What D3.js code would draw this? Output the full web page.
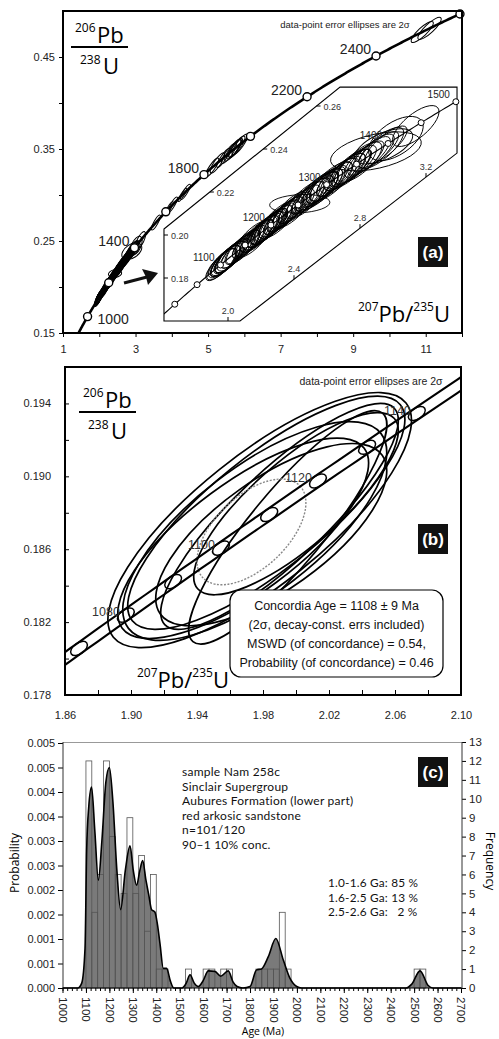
<!DOCTYPE html>
<html>
<head>
<meta charset="utf-8">
<title>U-Pb concordia and detrital age spectrum</title>
<script src="https://cdn.jsdelivr.net/npm/d3@7/dist/d3.min.js"></script>
<style>
body{margin:0;background:#fff;}
</style>
</head>
<body>
<script>
// ---------- data ----------
// zircon grains (Ma) with 2-sigma errors in % and error correlation
var grainAge = [1101,1104,1106,1108,1110,1112,1114,1116,1118,1120,1122,1124,
  1128,1134,1140,1146,
  1152,1156,1161,1165,1169,1173,
  1176,1178,1181,1183,1185,1187,1189,1191,1193,1195,1197,1199,
  1201,1204,1207,1210,1213,1216,1219,1223,
  1227,1231,1235,1239,1243,1247,
  1253,1258,1263,1267,1272,
  1276,1279,1282,1285,1288,1291,1293,1296,1299,
  1303,1308,1313,1318,1322,
  1327,1331,1335,1338,1341,1344,1348,
  1355,1362,1370,
  1377,1381,1385,1389,1393,1397,
  1412,1442,1541,
  1618,1640,1692,1708,
  1838,1862,1888,1912,1928,1934,1940,1946,1958,
  2515,2532];
var grainErrX = [4.7,4.3,5.1,4.0,4.5,4.9,4.1,5.3,4.4,4.6,4.2,5.0,
  4.1,4.7,4.4,4.9,
  3.9,4.5,4.3,5.1,4.0,4.6,
  4.3,3.8,4.7,4.1,4.5,4.0,4.9,4.2,4.4,4.8,4.1,4.6,
  4.4,3.9,4.7,4.2,5.0,4.1,4.5,4.3,
  4.6,4.1,4.4,4.9,4.0,4.5,
  7.5,4.3,4.7,4.1,4.5,
  4.2,4.6,4.0,4.8,4.4,4.1,4.7,4.3,4.5,
  4.4,4.9,4.1,4.6,4.3,
  4.2,4.5,4.0,4.7,4.4,4.1,4.6,
  4.8,4.3,4.5,
  4.4,9.5,4.2,4.7,6.0,4.3,
  5.5,4.5,3.5,
  3.0,3.2,2.8,3.1,
  3.6,3.8,3.4,3.7,3.9,3.6,3.4,3.8,3.7,
  2.8,2.9];
var grainErrY = [4.0,3.6,4.3,3.4,3.8,4.1,3.5,4.4,3.7,3.9,3.6,4.2,
  3.5,4.0,3.7,4.1,
  3.3,3.8,3.6,4.3,3.4,3.9,
  3.6,3.2,4.0,3.5,3.8,3.4,4.1,3.5,3.7,4.0,3.5,3.9,
  3.7,3.3,4.0,3.5,4.2,3.5,3.8,3.6,
  3.9,3.5,3.7,4.1,3.4,3.8,
  2.0,3.6,4.0,3.5,3.8,
  3.5,3.9,3.4,4.0,3.7,3.5,4.0,3.6,3.8,
  3.7,4.1,3.5,3.9,3.6,
  3.5,3.8,3.4,4.0,3.7,3.5,3.9,
  4.0,3.6,3.8,
  3.7,3.8,3.5,4.0,3.4,3.6,
  4.2,3.8,3.0,
  2.6,2.8,2.4,2.7,
  3.1,3.3,3.0,3.2,3.4,3.1,2.9,3.3,3.2,
  2.4,2.5];
var grainRho = [0.79,0.75,0.81,0.73,0.78,0.80,0.76,0.82,0.77,0.79,0.74,0.81,
  0.77,0.80,0.75,0.79,
  0.76,0.78,0.81,0.74,0.79,0.77,
  0.78,0.75,0.80,0.77,0.79,0.73,0.81,0.76,0.78,0.80,0.75,0.79,
  0.77,0.74,0.80,0.78,0.76,0.79,0.81,0.75,
  0.78,0.76,0.80,0.74,0.79,0.77,
  0.15,0.78,0.75,0.80,0.77,
  0.79,0.76,0.81,0.74,0.78,0.80,0.75,0.79,0.77,
  0.78,0.75,0.80,0.77,0.79,
  0.76,0.81,0.74,0.78,0.80,0.77,0.79,
  0.75,0.78,0.80,
  0.77,0.45,0.79,0.76,0.60,0.78,
  0.55,0.70,0.85,
  0.88,0.86,0.90,0.87,
  0.86,0.84,0.88,0.85,0.86,0.84,0.87,0.85,0.86,
  0.85,0.85];

// panel (a) concordia marks
var markAgesA = [1000,1200,1400,1600,1800,2000,2200,2400,2600];
var labelAgesA = [1000,1400,1800,2200,2400];
var yTicksA = [0.15,0.20,0.25,0.30,0.35,0.40,0.45];
var yLabelsA = [0.15,0.25,0.35,0.45];
var xTicksA = [1,2,3,4,5,6,7,8,9,10,11,12];
var xLabelsA = [1,3,5,7,9,11];
// inset
var markAgesIn = [1000,1050,1100,1150,1200,1250,1300,1350,1400,1450,1500];
var labelAgesIn = [1100,1200,1300,1400,1500];
var inXTicks = [2.0,2.4,2.8,3.2];
var inYTicks = [0.18,0.20,0.22,0.24,0.26];

// panel (b): grains used for the concordia age
var bX   = [1.978,1.982,1.975,1.990,1.985,2.000,1.968,1.995];
var bY   = [0.1876,0.1880,0.1870,0.1878,0.1868,0.1885,0.1866,0.1872];
var bSx  = [0.092,0.084,0.080,0.072,0.070,0.062,0.076,0.060];
var bSy  = [0.0070,0.0064,0.0060,0.0062,0.0050,0.0050,0.0055,0.0064];
var bRho = [0.78,0.80,0.72,0.85,0.70,0.80,0.75,0.88];
var bMean = [1.973,0.18695,0.033,0.0029,0.55]; // x, y, sx, sy, rho
var markAgesB = [1070,1080,1090,1100,1110,1120,1130,1140];
var labelAgesB = [1080,1100,1120,1140];
var yTicksB = [0.178,0.180,0.182,0.184,0.186,0.188,0.190,0.192,0.194,0.196];
var yLabelsB = [0.178,0.182,0.186,0.190,0.194];
var xTicksB = [1.86,1.88,1.90,1.92,1.94,1.96,1.98,2.00,2.02,2.04,2.06,2.08,2.10];
var xLabelsB = [1.86,1.90,1.94,1.98,2.02,2.06,2.10];
var concText = ["Concordia Age = 1108 \u00b1 9 Ma","(2\u03c3, decay-const. errs included)",
  "MSWD (of concordance) = 0.54,","Probability (of concordance) = 0.46"];

// panel (c): histogram (25 Ma bins) and probability density curve
var binStart = [1100,1125,1150,1175,1200,1225,1250,1275,1300,1325,1350,1375,1400,1425,
  1525,1600,1625,1675,1700,1825,1850,1875,1900,1925,1950,2500,2525];
var binCount = [12,4,6,12,8,6,5,9,5,7,3,6,1,1,1,1,1,1,1,1,1,1,1,4,1,1,1];
var pdpAge = [1000,1065,1082,1096,1103,1112,1124,1138,1153,1168,1185,1200,1215,1232,1248,
  1268,1288,1302,1316,1330,1342,1356,1368,1380,1394,1405,1416,1430,1444,1461,1475,
  1510,1528,1544,1562,1579,1600,1622,1650,1675,1707,1728,1745,1770,1800,1828,1849,
  1878,1910,1942,1970,1999,2020,2465,2490,2525,2560,2580,2700];
var pdpDens = [0,0,0.0001,0.0008,0.0028,0.0037,0.0041,0.0032,0.0022,0.0030,0.0042,0.0045,
  0.0038,0.0024,0.0016,0.0024,0.0029,0.0024,0.0021,0.0024,0.0026,0.0022,0.0019,0.0016,
  0.00155,0.0013,0.0009,0.0004,0.0004,0.00013,0,0,0.0001,0.00027,0.0001,0.00003,0.00015,
  0.00035,0.00034,0.00024,0.00035,0.00012,0.00003,0,0.00003,0.00037,0.00039,0.00064,
  0.00101,0.00057,0.0002,0.00003,0,0,0.00008,0.00035,0.00005,0,0];
var yLabelsC = ["0.000","0.001","0.001","0.002","0.002","0.003","0.003","0.004","0.004","0.005","0.005"];
var freqTicks = [0,1,2,3,4,5,6,7,8,9,10,11,12,13];
var sampleText = ["sample Nam 258c","Sinclair Supergroup","Aubures Formation (lower part)",
  "red arkosic sandstone","n=101/120","90\u20131 10% conc."];
var groupText = ["1.0-1.6 Ga: 85 %","1.6-2.5 Ga: 13 %","2.5-2.6 Ga:   2 %"];

// ---------- helpers ----------
var L238 = 1.55125e-4, L235 = 9.8485e-4; // per Ma
function r206(t){ return Math.exp(L238*t) - 1; }
function r207(t){ return Math.exp(L235*t) - 1; }
var SANS = "Liberation Sans, Arial, sans-serif";
var MYR = "Open Sans, Noto Sans, sans-serif";
var LAT = "Lato, Open Sans, sans-serif";

// error ellipse in pixel space from data errors
function ellipse(sel, xs, ys, x, y, sx, sy, rho){
  var kx = Math.abs(xs(1) - xs(0)), ky = Math.abs(ys(1) - ys(0));
  var a = Math.pow(sx*kx,2), d = Math.pow(sy*ky,2), b = -rho*sx*kx*sy*ky;
  var T = (a+d)/2, D = Math.sqrt((a-d)*(a-d)/4 + b*b);
  var ang = 0.5*Math.atan2(2*b, a-d)*180/Math.PI;
  var cx = xs(x), cy = ys(y);
  return sel.append("ellipse").attr("cx",cx).attr("cy",cy)
    .attr("rx",Math.sqrt(T+D)).attr("ry",Math.sqrt(Math.max(T-D,0.2)))
    .attr("transform","rotate("+ang+","+cx+","+cy+")")
    .attr("fill","none");
}
function fraction(g, x, y, top, bot){
  // stacked isotope ratio label
  g.append("text").attr("x",x+4).attr("y",y).attr("font-family",MYR).attr("font-size",12).text(top[0]);
  g.append("text").attr("x",x+26).attr("y",y+11).attr("font-family",MYR).attr("font-size",22).text(top[1]);
  g.append("line").attr("x1",x).attr("x2",x+57).attr("y1",y+15).attr("y2",y+15).attr("stroke","#000").attr("stroke-width",2.2);
  g.append("text").attr("x",x+9).attr("y",y+32).attr("font-family",MYR).attr("font-size",12).text(bot[0]);
  g.append("text").attr("x",x+32).attr("y",y+42).attr("font-family",MYR).attr("font-size",22).text(bot[1]);
}
function xRatio(g, x, y){
  var t = g.append("text").attr("x",x).attr("y",y).attr("text-anchor","end").attr("font-family",MYR);
  t.append("tspan").attr("font-size",12).attr("dy",-11).text("207");
  t.append("tspan").attr("font-size",22).attr("dy",11).text("Pb/");
  t.append("tspan").attr("font-size",12).attr("dy",-11).text("235");
  t.append("tspan").attr("font-size",22).attr("dy",11).text("U");
}
function tag(g, x, y, s){
  g.append("rect").attr("x",x).attr("y",y).attr("width",30).attr("height",30).attr("fill","#111");
  g.append("text").attr("x",x+15).attr("y",y+21).attr("text-anchor","middle").attr("fill","#fff")
    .attr("font-family",SANS).attr("font-weight","bold").attr("font-size",17).text(s);
}
function styleAxis(g, size){
  g.select(".domain").remove();
  g.selectAll("text").attr("font-family",SANS).attr("font-size",size).attr("fill","#222");
  g.selectAll("line").attr("stroke","#000");
}

var svg = d3.select("body").append("svg").attr("width",499).attr("height",1039);
var defs = svg.append("defs");

// ================= panel (a) =================
var xA = d3.scaleLinear().domain([1,12]).range([63,462]);
var yA = d3.scaleLinear().domain([0.15,0.50]).range([333,11]);
var gA = svg.append("g");
defs.append("clipPath").attr("id","clipA").append("rect")
  .attr("x",63).attr("y",11).attr("width",399).attr("height",322);
var pA = gA.append("g").attr("clip-path","url(#clipA)");

grainAge.forEach(function(t,i){
  var x = r207(t), y = r206(t);
  ellipse(pA, xA, yA, x, y, x*grainErrX[i]/100, y*grainErrY[i]/100, grainRho[i])
    .attr("stroke","#000").attr("stroke-width",1);
});
pA.append("path").datum(d3.range(880,2605,5))
  .attr("d", d3.line().x(function(t){return xA(r207(t));}).y(function(t){return yA(r206(t));}))
  .attr("fill","none").attr("stroke","#000").attr("stroke-width",2.6);
gA.selectAll("circle.mA").data(markAgesA).join("circle")
  .attr("cx",function(t){return xA(r207(t));}).attr("cy",function(t){return yA(r206(t));})
  .attr("r",4).attr("fill","#fff").attr("stroke","#000").attr("stroke-width",1.4);
gA.selectAll("text.lA").data(labelAgesA).join("text")
  .attr("x",function(t){return t===1000 ? xA(r207(t))+10 : xA(r207(t))-5;})
  .attr("y",function(t){return t===1000 ? yA(r206(t))+7 : yA(r206(t))-2;})
  .attr("text-anchor",function(t){return t===1000 ? "start" : "end";})
  .attr("font-family",SANS).attr("font-size",14).attr("fill","#222").text(function(t){return t;});

// inset
var xi = d3.scaleLinear().domain([2.0,3.2]).range([228,426]);
var yi = d3.scaleLinear().domain([0.18,0.26]).range([278,106]);
var hexX = [1.612,2.679,3.388,3.388,2.073,1.612], hexY = [0.2028,0.2688,0.2688,0.2381,0.16,0.16];
var hexPts = hexX.map(function(v,i){return [xi(v), yi(hexY[i])];});
defs.append("clipPath").attr("id","clipIn").append("polygon").attr("points",hexPts.join(" "));
gA.append("polygon").attr("points",hexPts.join(" ")).attr("fill","#fff").attr("stroke","none");
var pI = gA.append("g").attr("clip-path","url(#clipIn)");
grainAge.forEach(function(t,i){
  var x = r207(t), y = r206(t);
  ellipse(pI, xi, yi, x, y, x*grainErrX[i]/100, y*grainErrY[i]/100, grainRho[i])
    .attr("stroke","#000").attr("stroke-width",0.9);
});
pI.append("path").datum(d3.range(940,1560,5))
  .attr("d", d3.line().x(function(t){return xi(r207(t));}).y(function(t){return yi(r206(t));}))
  .attr("fill","none").attr("stroke","#000").attr("stroke-width",1.1);
gA.append("polygon").attr("points",hexPts.join(" ")).attr("fill","none").attr("stroke","#000").attr("stroke-width",1.1);
gA.selectAll("circle.mI").data(markAgesIn).join("circle")
  .attr("cx",function(t){return xi(r207(t));}).attr("cy",function(t){return yi(r206(t));})
  .attr("r",3).attr("fill","#fff").attr("stroke","#000").attr("stroke-width",1);
gA.selectAll("text.lI").data(labelAgesIn).join("text")
  .attr("x",function(t){return xi(r207(t))-6;}).attr("y",function(t){return yi(r206(t))-4;})
  .attr("text-anchor","end").attr("font-family",SANS).attr("font-size",10).attr("fill","#222")
  .text(function(t){return t;});
// inset ticks on the frame edges
function edgeX(p, q, y){ return p[0] + (q[0]-p[0])*(y-p[1])/(q[1]-p[1]); }
function edgeY(p, q, x){ return p[1] + (q[1]-p[1])*(x-p[0])/(q[0]-p[0]); }
inYTicks.forEach(function(v){
  var py = yi(v);
  var px = py >= hexPts[0][1] ? hexPts[0][0] : edgeX(hexPts[0], hexPts[1], py);
  gA.append("line").attr("x1",px).attr("x2",px+4).attr("y1",py).attr("y2",py).attr("stroke","#000");
  gA.append("text").attr("x",px+7).attr("y",py+3.5).attr("font-family",SANS).attr("font-size",9)
    .attr("fill","#333").text(d3.format(".2f")(v));
});
inXTicks.forEach(function(v){
  var px = xi(v);
  var py = px <= hexPts[4][0] ? hexPts[4][1] : edgeY(hexPts[3], hexPts[4], px);
  gA.append("line").attr("x1",px).attr("x2",px).attr("y1",py).attr("y2",py-4).attr("stroke","#000");
  gA.append("text").attr("x",px).attr("y",py-7).attr("text-anchor","middle").attr("font-family",SANS)
    .attr("font-size",9).attr("fill","#333").text(d3.format(".1f")(v));
});
// arrow toward inset
gA.append("line").attr("x1",124).attr("y1",283).attr("x2",147).attr("y2",277).attr("stroke","#111").attr("stroke-width",3);
gA.append("path").attr("d","M158,273 L142,269 L146,277 L148,285 Z").attr("fill","#111");

// axes (a)
var axYA = gA.append("g").attr("transform","translate(63,0)")
  .call(d3.axisLeft(yA).tickValues(yTicksA).tickSize(4).tickPadding(4)
  .tickFormat(function(d){return yLabelsA.indexOf(d) >= 0 ? d3.format(".2f")(d) : "";}));
styleAxis(axYA, 11);
var axXA = gA.append("g").attr("transform","translate(0,333)")
  .call(d3.axisBottom(xA).tickValues(xTicksA).tickSize(4).tickPadding(8)
  .tickFormat(function(d){return xLabelsA.indexOf(d) >= 0 ? d : "";}));
styleAxis(axXA, 11);
gA.append("rect").attr("x",63).attr("y",11).attr("width",399).attr("height",322)
  .attr("fill","none").attr("stroke","#000").attr("stroke-width",2);
gA.append("text").attr("x",345).attr("y",28).attr("text-anchor","middle").attr("font-family",SANS)
  .attr("font-size",9.5).attr("fill","#222").text("data-point error ellipses are 2\u03c3");
fraction(gA, 71, 32, ["206","Pb"], ["238","U"]);
xRatio(gA, 450, 322);
tag(gA, 418, 237, "(a)");

// ================= panel (b) =================
var xB = d3.scaleLinear().domain([1.86,2.10]).range([65,461]);
var yB = d3.scaleLinear().domain([0.178,0.196]).range([695,367]);
var gB = svg.append("g");
defs.append("clipPath").attr("id","clipB").append("rect")
  .attr("x",65).attr("y",367).attr("width",396).attr("height",328);
var pB = gB.append("g").attr("clip-path","url(#clipB)");
bX.forEach(function(x,i){
  ellipse(pB, xB, yB, x, bY[i], bSx[i], bSy[i], bRho[i]).attr("stroke","#000").attr("stroke-width",1.7);
});
ellipse(pB, xB, yB, bMean[0], bMean[1], bMean[2], bMean[3], bMean[4])
  .attr("stroke","#888").attr("stroke-width",1.4).attr("stroke-dasharray","2,1.5");
var bandE = 0.0029;
[-1,1].forEach(function(s){
  pB.append("path").datum(d3.range(1040,1170,2))
    .attr("d", d3.line().x(function(t){return xB(r207(t)*(1+s*bandE));}).y(function(t){return yB(r206(t));}))
    .attr("fill","none").attr("stroke","#000").attr("stroke-width",2.1);
});
markAgesB.forEach(function(t){
  var cx = xB(r207(t)), cy = yB(r206(t));
  var cx2 = xB(r207(t+1)), cy2 = yB(r206(t+1));
  var ang = Math.atan2(cy2-cy, cx2-cx)*180/Math.PI;
  pB.append("ellipse").attr("cx",cx).attr("cy",cy).attr("rx",9.5).attr("ry",5.5)
    .attr("transform","rotate("+ang+","+cx+","+cy+")").attr("fill","none")
    .attr("stroke","#000").attr("stroke-width",1.5);
});
gB.selectAll("text.lB").data(labelAgesB).join("text")
  .attr("x",function(t){return xB(r207(t))-6;}).attr("y",function(t){return yB(r206(t))+1;})
  .attr("text-anchor","end").attr("font-family",SANS).attr("font-size",12.5).attr("fill","#333")
  .text(function(t){return t;});
var axYB = gB.append("g").attr("transform","translate(65,0)")
  .call(d3.axisLeft(yB).tickValues(yTicksB).tickSize(4).tickPadding(10)
  .tickFormat(function(d){return yLabelsB.indexOf(d) >= 0 ? d3.format(".3f")(d) : "";}));
styleAxis(axYB, 11);
axYB.selectAll("line").attr("x2",4);
var axXB = gB.append("g").attr("transform","translate(0,695)")
  .call(d3.axisBottom(xB).tickValues(xTicksB).tickSize(4).tickPadding(12)
  .tickFormat(function(d){return xLabelsB.indexOf(d) >= 0 ? d3.format(".2f")(d) : "";}));
styleAxis(axXB, 11);
axXB.selectAll("line").attr("y2",-5);
gB.append("rect").attr("x",65).attr("y",367).attr("width",396).attr("height",328)
  .attr("fill","none").attr("stroke","#000").attr("stroke-width",2);
gB.append("text").attr("x",371).attr("y",385).attr("text-anchor","middle").attr("font-family",SANS)
  .attr("font-size",10.5).attr("fill","#222").text("data-point error ellipses are 2\u03c3");
fraction(gB, 79, 397, ["206","Pb"], ["238","U"]);
xRatio(gB, 229, 688);
tag(gB, 418, 524, "(b)");
gB.append("rect").attr("x",230).attr("y",590).attr("width",213).attr("height",87).attr("rx",11)
  .attr("fill","#fff").attr("stroke","#000").attr("stroke-width",1.2);
gB.selectAll("text.ct").data(concText).join("text")
  .attr("x",336.5).attr("y",function(d,i){return 609.5 + i*19;}).attr("text-anchor","middle")
  .attr("font-family",SANS).attr("font-size",12.5).attr("fill","#111").text(function(d){return d;});

// ================= panel (c) =================
var xC = d3.scaleLinear().domain([1000,2700]).range([62.5,461]);
var yP = d3.scaleLinear().domain([0,0.005]).range([988,743]);
var yF = d3.scaleLinear().domain([0,13]).range([988,742]);
var gC = svg.append("g");
gC.append("line").attr("x1",63).attr("x2",462).attr("y1",742.5).attr("y2",742.5).attr("stroke","#999");
var pdp = pdpAge.map(function(a,i){return [a, pdpDens[i]];});
gC.append("path").datum(pdp)
  .attr("d", d3.area().x(function(d){return xC(d[0]);}).y0(yP(0)).y1(function(d){return yP(d[1]);}).curve(d3.curveMonotoneX))
  .attr("fill","#7a7a7a");
gC.selectAll("rect.bin").data(binStart).join("rect")
  .attr("x",function(d){return xC(d);}).attr("width",function(d){return xC(d+25)-xC(d);})
  .attr("y",function(d,i){return yF(binCount[i]);}).attr("height",function(d,i){return yF(0)-yF(binCount[i]);})
  .attr("fill","none").attr("stroke","#555").attr("stroke-width",0.8);
gC.append("path").datum(pdp)
  .attr("d", d3.line().x(function(d){return xC(d[0]);}).y(function(d){return yP(d[1]);}).curve(d3.curveMonotoneX))
  .attr("fill","none").attr("stroke","#000").attr("stroke-width",1.6);

var axYC = gC.append("g").attr("transform","translate(63,0)")
  .call(d3.axisLeft(yP).tickValues(d3.range(0,11).map(function(i){return i*0.0005;})).tickSize(5).tickPadding(3)
  .tickFormat(function(d,i){return yLabelsC[i];}));
styleAxis(axYC, 11);
gC.append("line").attr("x1",63).attr("x2",63).attr("y1",742).attr("y2",988).attr("stroke","#333");
var axFC = gC.append("g").attr("transform","translate(462,0)")
  .call(d3.axisRight(yF).tickValues(freqTicks).tickSize(4).tickPadding(3));
styleAxis(axFC, 11.5);
gC.append("line").attr("x1",462).attr("x2",462).attr("y1",742).attr("y2",988).attr("stroke","#333");
var axMinC = gC.append("g").attr("transform","translate(0,988)")
  .call(d3.axisBottom(xC).tickValues(d3.range(1000,2701,20)).tickSize(3).tickFormat(""));
styleAxis(axMinC, 10);
var axXC = gC.append("g").attr("transform","translate(0,988)")
  .call(d3.axisBottom(xC).tickValues(d3.range(1000,2701,100)).tickSize(5).tickFormat(d3.format("d")));
styleAxis(axXC, 11.5);
axXC.selectAll("text").attr("transform","rotate(90)").attr("x",9).attr("y",0).attr("dy","0.35em")
  .attr("text-anchor","start");
gC.append("line").attr("x1",63).attr("x2",462).attr("y1",988).attr("y2",988).attr("stroke","#000").attr("stroke-width",1.2);

gC.append("text").attr("transform","translate(19,863) rotate(-90)").attr("text-anchor","middle")
  .attr("font-family",MYR).attr("font-size",12).text("Probability");
gC.append("text").attr("transform","translate(486,861) rotate(90)").attr("text-anchor","middle")
  .attr("font-family",MYR).attr("font-size",12).text("Frequency");
gC.append("text").attr("x",263).attr("y",1035).attr("text-anchor","middle")
  .attr("font-family",MYR).attr("font-size",10.5).text("Age (Ma)");
gC.selectAll("text.st").data(sampleText).join("text")
  .attr("x",182).attr("y",function(d,i){return 776 + i*14.6;})
  .attr("font-family",LAT).attr("font-size",12).attr("letter-spacing",0.25).attr("fill","#111")
  .text(function(d){return d;});
gC.selectAll("text.gt").data(groupText).join("text")
  .attr("x",328).attr("y",function(d,i){return 887 + i*14.5;}).attr("xml:space","preserve")
  .attr("font-family",LAT).attr("font-size",11.8).attr("letter-spacing",0.2).attr("fill","#111")
  .text(function(d){return d;});
tag(gC, 418, 757, "(c)");
</script>
</body>
</html>
